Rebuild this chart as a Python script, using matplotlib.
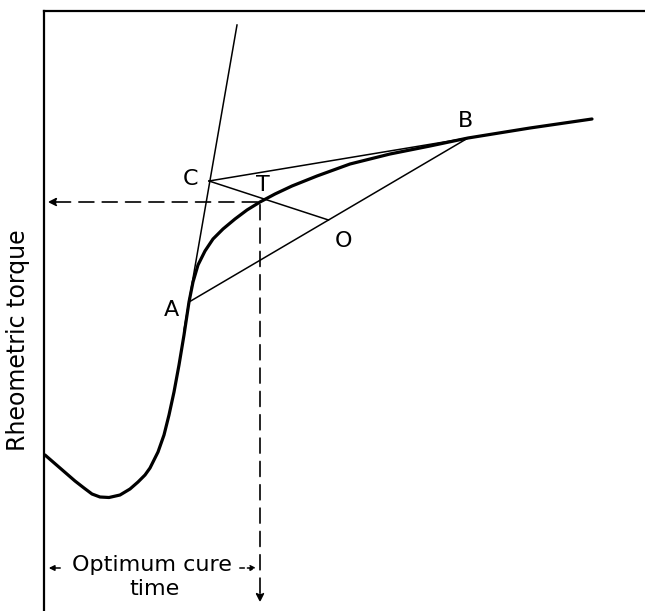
import numpy as np
import matplotlib.pyplot as plt

# rheometer trace (arbitrary time / torque units)
time = [1, 16, 31, 40, 48, 56, 65, 76, 86, 94, 101, 106, 114, 120, 125, 130,
        135, 140, 145, 149, 154, 161, 169, 179, 191, 203, 216, 231, 248, 273,
        306, 346, 386, 424, 486, 548]
torque = [156, 143, 130, 123, 117, 114, 113.5, 116, 122, 129, 136, 143, 159, 176,
          196, 219, 246, 276, 309, 329, 346, 360, 372, 382, 392, 401, 409, 417,
          425, 435, 447, 457, 465, 473, 483, 492]

# construction points
pt_A = (145, 309)
pt_B = (424, 473)
pt_C = (165, 430)
pt_T = (216, 409)
pt_O = ((pt_A[0] + pt_B[0]) / 2, (pt_A[1] + pt_B[1]) / 2)
tangent_ends = [(140, 281), (193, 586)]

fig = plt.figure(figsize=(6.45, 6.11), dpi=100)
ax = fig.add_axes([44 / 645, 0, 601 / 645, 600 / 611])
ax.set_xlim(0, 601)
ax.set_ylim(0, 600)
for s in ['bottom', 'right']:
    ax.spines[s].set_visible(False)
for s in ['left', 'top']:
    ax.spines[s].set_linewidth(1.6)
ax.set_xticks([])
ax.set_yticks([])

thin = dict(color='black', lw=1.1)
ax.plot(time, torque, color='black', lw=2.3, solid_capstyle='round',
        solid_joinstyle='round')
ax.plot(*zip(*tangent_ends), **thin)
ax.plot(*zip(pt_C, pt_B), **thin)
ax.plot(*zip(pt_A, pt_B), **thin)
ax.plot(*zip(pt_C, pt_O), **thin)

# dashed projections from T
dash = (0, (9, 5))
ax.annotate('', xy=(1, pt_T[1]), xytext=pt_T,
            arrowprops=dict(arrowstyle='-|>', color='black', lw=1.2,
                            ls=dash, mutation_scale=12))
ax.annotate('', xy=(pt_T[0], 6), xytext=pt_T,
            arrowprops=dict(arrowstyle='-|>', color='black', lw=1.2,
                            ls=dash, mutation_scale=12))

lab = dict(fontsize=16, ha='center', va='center')
ax.text(pt_A[0] - 18, pt_A[1] - 8, 'A', **lab)
ax.text(pt_B[0] - 2, pt_B[1] + 17, 'B', **lab)
ax.text(pt_C[0] - 18, pt_C[1] + 2, 'C', **lab)
ax.text(pt_T[0] + 3, pt_T[1] + 17, 'T', **lab)
ax.text(pt_O[0] + 15, pt_O[1] - 21, 'O', **lab)

ax.text(108, 46, 'Optimum cure', **lab)
ax.text(110, 22, 'time', **lab)
ax.annotate('', xy=(2, 43), xytext=(19, 43),
            arrowprops=dict(arrowstyle='-|>', color='black', lw=1.1, mutation_scale=8))
ax.annotate('', xy=(pt_T[0] - 1, 43), xytext=(193, 43),
            arrowprops=dict(arrowstyle='-|>', color='black', lw=1.1,
                            ls=(0, (3, 2)), mutation_scale=8))

fig.text(18 / 645, 1 - 340 / 611, 'Rheometric torque', rotation=90,
         fontsize=17, ha='center', va='center')

fig.savefig('out.png', dpi=100)
